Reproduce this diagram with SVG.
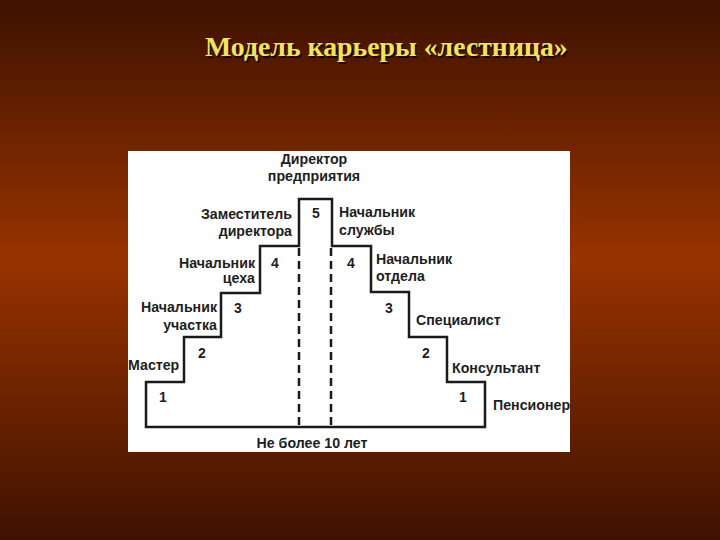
<svg xmlns="http://www.w3.org/2000/svg" width="720" height="540" viewBox="0 0 720 540">
  <defs>
    <linearGradient id="bg" x1="0" y1="0" x2="0" y2="1">
      <stop offset="0" stop-color="#3e1200"/>
      <stop offset="0.48" stop-color="#983300"/>
      <stop offset="1" stop-color="#3e1200"/>
    </linearGradient>
  </defs>
  <style>
    .lbl { font-family: "Liberation Sans", Arial, sans-serif; font-weight: bold; font-size: 14.2px; fill: #1e1e1e; }
    .num { font-family: "Liberation Sans", Arial, sans-serif; font-weight: bold; font-size: 14px; fill: #1e1e1e; }
    .r { text-anchor: end; }
    .m { text-anchor: middle; }
    .title { font-family: "Liberation Serif", "Times New Roman", serif; font-weight: bold; font-size: 27.8px; fill: #f2e35c; }
    .shadow { font-family: "Liberation Serif", "Times New Roman", serif; font-weight: bold; font-size: 27.8px; fill: #1a0500; }
    .outline { fill: none; stroke: #1a1a1a; stroke-width: 2.5; stroke-linejoin: miter; }
    .dash { fill: none; stroke: #1a1a1a; stroke-width: 2.5; stroke-dasharray: 8 5; }
  </style>
  <rect x="0" y="0" width="720" height="540" fill="url(#bg)"/>
  <g id="title">
    <text class="shadow" x="206.5" y="57.5">Модель карьеры «лестница»</text>
    <text class="title" x="205" y="56">Модель карьеры «лестница»</text>
  </g>
  <rect id="panel" x="128" y="151" width="442" height="301" fill="#ffffff"/>
  <g id="connectors">
    <path class="outline" d="M146,427 V382 H184 V337 H221 V293 H260 V246 H299 V199 H332 V246 H371 V292 H409 V337 H447 V382 H485 V427 Z"/>
    <line class="dash" x1="299" y1="248" x2="299" y2="427"/>
    <line class="dash" x1="331" y1="248" x2="331" y2="427"/>
  </g>
  <g id="n-director">
    <text class="lbl m" x="314" y="164">Директор</text>
    <text class="lbl m" x="314" y="181">предприятия</text>
  </g>
  <g id="n-deputy">
    <text class="lbl r" x="292" y="219">Заместитель</text>
    <text class="lbl r" x="292" y="236">директора</text>
  </g>
  <g id="n-level5"><text class="num m" x="316" y="218">5</text></g>
  <g id="n-service">
    <text class="lbl" x="339" y="217">Начальник</text>
    <text class="lbl" x="339" y="235">службы</text>
  </g>
  <g id="n-shop">
    <text class="lbl r" x="255" y="268">Начальник</text>
    <text class="lbl r" x="255" y="283">цеха</text>
  </g>
  <g id="n-level4l"><text class="num" x="271" y="268">4</text></g>
  <g id="n-level4r"><text class="num" x="347" y="268">4</text></g>
  <g id="n-dept">
    <text class="lbl" x="376" y="264">Начальник</text>
    <text class="lbl" x="376" y="281">отдела</text>
  </g>
  <g id="n-section">
    <text class="lbl r" x="217" y="312">Начальник</text>
    <text class="lbl r" x="217" y="330">участка</text>
  </g>
  <g id="n-level3l"><text class="num" x="234" y="313">3</text></g>
  <g id="n-level3r"><text class="num" x="385" y="313">3</text></g>
  <g id="n-specialist"><text class="lbl" x="416" y="325">Специалист</text></g>
  <g id="n-master"><text class="lbl" x="128" y="370">Мастер</text></g>
  <g id="n-level2l"><text class="num" x="198" y="358">2</text></g>
  <g id="n-level2r"><text class="num" x="422" y="358">2</text></g>
  <g id="n-consultant"><text class="lbl" x="452" y="373">Консультант</text></g>
  <g id="n-level1l"><text class="num" x="159" y="402">1</text></g>
  <g id="n-level1r"><text class="num" x="459" y="402">1</text></g>
  <g id="n-pensioner"><text class="lbl" x="493" y="410">Пенсионер</text></g>
  <g id="n-limit"><text class="lbl m" x="312" y="448">Не более 10 лет</text></g>
</svg>
